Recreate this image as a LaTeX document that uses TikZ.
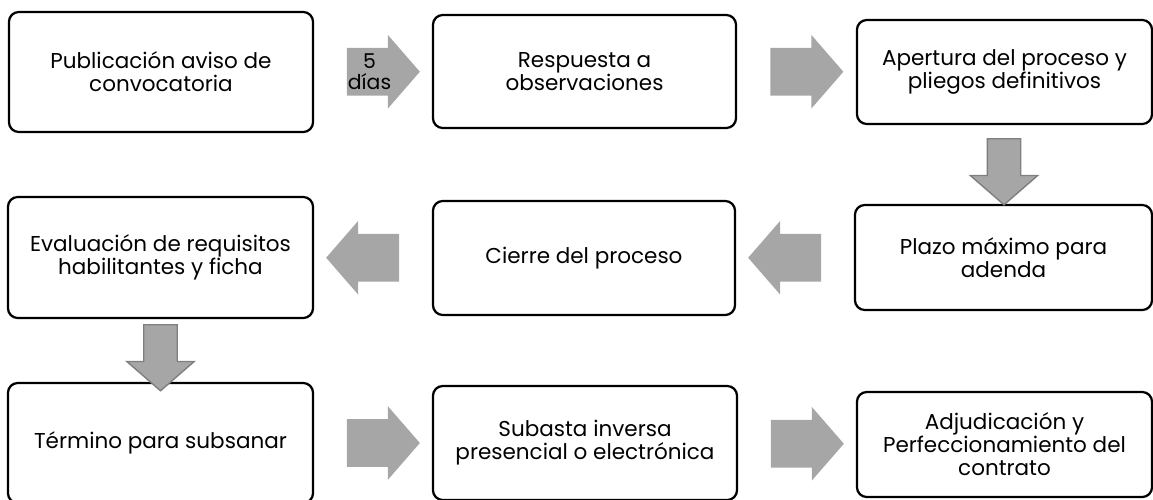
\documentclass[tikz,border=0pt]{standalone}
\usepackage{fontspec}
\setmainfont{Poppins}
\usetikzlibrary{shapes.arrows,calc}
\definecolor{flecha}{HTML}{A6A6A6}
\definecolor{bordeflecha}{HTML}{7F7F7F}
\tikzset{
    paso/.style={draw, line width=1.6pt, rounded corners=7pt, align=center, inner sep=2pt,
        font=\fontsize{15.3}{16.4}\selectfont},
    flechah/.style={single arrow, fill=flecha, inner xsep=0pt, inner ysep=0.5875cm,
        minimum width=1.625cm, minimum height=1.825cm,
        single arrow head extend=0.325cm, single arrow tip angle=98},
    flechav/.style={single arrow, fill=flecha, draw=bordeflecha, line width=1pt, rotate=-90,
        inner xsep=0pt, inner ysep=0.4cm, minimum width=1.45cm, minimum height=1.65cm,
        single arrow head extend=0.425cm, single arrow tip angle=98}
}
\begin{document}
\begin{tikzpicture}[x=0.025cm, y=-0.025cm]
    \useasboundingbox (0,0) rectangle (1153,500);
    % fila 1
    \node[paso, minimum width=7.6cm, minimum height=3cm] (publicacion) at (161,72) {Publicación aviso de\\convocatoria};
    \node[paso, minimum width=7.575cm, minimum height=2.825cm] (respuesta) at (584.5,71.5) {Respuesta a\\observaciones};
    \node[paso, minimum width=7.375cm, minimum height=2.6cm] (apertura) at (1004.5,72) {Apertura del proceso y\\pliegos definitivos};
    % fila 2
    \node[paso, minimum width=7.625cm, minimum height=3.025cm] (evaluacion) at (160.5,257.5) {Evaluación de requisitos\\habilitantes y ficha};
    \node[paso, minimum width=7.55cm, minimum height=2.85cm] (cierre) at (584,258) {Cierre del proceso};
    \node[paso, minimum width=7.425cm, minimum height=2.625cm] (plazo) at (1003.5,257.5) {Plazo máximo para\\adenda};
    % fila 3
    \node[paso, minimum width=7.625cm, minimum height=3cm] (termino) at (160.5,443) {Término para subsanar};
    \node[paso, minimum width=7.6cm, minimum height=2.85cm] (subasta) at (585,443) {Subasta inversa\\presencial o electrónica};
    \node[paso, minimum width=7.375cm, minimum height=2.625cm] (adjudicacion) at (1004.5,444.5) {Adjudicación y\\Perfeccionamiento del\\contrato};

    % flechas
    \node[flechah] (f1) at ($(publicacion.east)!0.5!(respuesta.west)$) {};
    \node[font=\fontsize{14.5}{15}\selectfont, align=center, inner sep=0pt] (dias) at ([xshift=0.575cm]f1.tail) {5\\días};
    \node[flechah] (f2) at ($(respuesta.east)!0.5!(apertura.west)$) {};
    \node[flechav] (f3) at ($(apertura.south)!0.5!(plazo.north)$) {};
    \node[flechah, rotate=180] (f4) at ($(plazo.west)!0.5!(cierre.east)$) {};
    \node[flechah, rotate=180] (f5) at ($(cierre.west)!0.5!(evaluacion.east)$) {};
    \node[flechav] (f6) at ($(evaluacion.south)!0.5!(termino.north)$) {};
    \node[flechah] (f7) at ($(termino.east)!0.5!(subasta.west)$) {};
    \node[flechah] (f8) at ($(subasta.east)!0.5!(adjudicacion.west)$) {};
\end{tikzpicture}
\end{document}
